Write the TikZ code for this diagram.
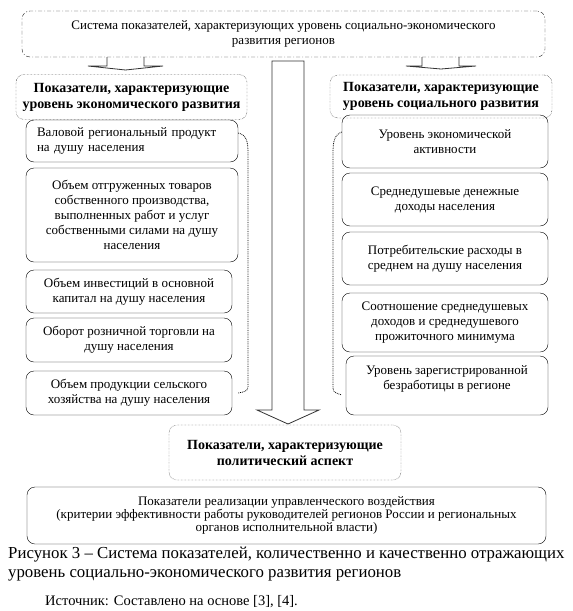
\documentclass[tikz,border=0pt]{standalone}
\usepackage{fontspec}
\setmainfont{Liberation Serif}
\begin{document}
\begin{tikzpicture}[x=1pt,y=-1pt,
  item/.style={draw,rounded corners=8pt,align=center,inner sep=0pt,
    font=\fontsize{13}{15}\selectfont},
  headbox/.style={draw,densely dotted,rounded corners=8pt,align=center,inner sep=0pt,
    font=\fontsize{14}{16}\selectfont\bfseries},
  bigarrow/.style={draw=black!80,line width=0.8pt}]
\useasboundingbox (0,0) rectangle (573,611);
\node [item,draw=black!85,dash pattern=on 4pt off 2pt on 1pt off 2pt,minimum width=523,minimum height=46] (top) at (283.5,34)
  {Система показателей, характеризующих уровень социально-экономического\\развития регионов};
\node [headbox,minimum width=231,minimum height=45] (lhead) at (131.5,97)
  {Показатели, характеризующие\\уровень экономического развития};
\node [headbox,minimum width=222,minimum height=43] (rhead) at (441,96.5)
  {Показатели, характеризующие\\уровень социального развития};
\node [item,minimum width=212,minimum height=42,text width=190,align=left] (l1) at (132,141)
  {\makebox[\linewidth][s]{Валовой региональный продукт}\\на душу населения};
\node [item,minimum width=212,minimum height=94] (l2) at (132,215)
  {Объем отгруженных товаров\\собственного производства,\\выполненных работ и услуг\\собственными силами на душу\\населения};
\node [item,minimum width=206,minimum height=43] (l3) at (129,291.5)
  {Объем инвестиций в основной\\капитал на душу населения};
\node [item,minimum width=206,minimum height=44] (l4) at (129,340)
  {Оборот розничной торговли на\\душу населения};
\node [item,minimum width=206,minimum height=44] (l5) at (129,393)
  {Объем продукции сельского\\хозяйства на душу населения};
\node [item,minimum width=206,minimum height=53] (r1) at (445,141.5)
  {Уровень экономической\\активности};
\node [item,minimum width=206,minimum height=53] (r2) at (445,199.5)
  {Среднедушевые денежные\\доходы населения};
\node [item,minimum width=206,minimum height=53] (r3) at (445,258.5)
  {Потребительские расходы в\\среднем на душу населения};
\node [item,minimum width=206,minimum height=59] (r4) at (445,322.5)
  {Соотношение среднедушевых\\доходов и среднедушевого\\прожиточного минимума};
\node [item,minimum width=202,minimum height=59] (r5) at (447,385.5)
  {Уровень зарегистрированной\\безработицы в регионе\\\mbox{}};
\node [headbox,minimum width=232,minimum height=55] (pol) at (285,452.5)
  {Показатели, характеризующие\\политический аспект};
\node [item,font=\fontsize{13}{12.8}\selectfont,minimum width=519,minimum height=57] (bot) at (286.5,515.5)
  {Показатели реализации управленческого воздействия\\(критерии эффективности работы руководителей регионов России и региональных\\органов исполнительной власти)};
\draw [bigarrow] (107,57) -- (107,66) -- (88,66) -- (125.5,70) -- (163,66) -- (144,66) -- (144,57);
\draw [bigarrow] (422,57) -- (422,66) -- (406,66) -- (441,69) -- (476,66) -- (459,66) -- (459,57);
\draw [bigarrow] (272,61) -- (272,410) -- (257,410) -- (288,424) -- (319,410) -- (304,410) -- (304,61) -- cycle;
\draw [densely dotted,thick] ([yshift=8pt]l1.east) .. controls (248,135) and (248,145) .. (248,155)
  -- (248,383) .. controls (248,391) .. ([xshift=6pt]l5.east);
\draw [densely dotted,thick] ([yshift=9.5pt]r1.west) .. controls (333,135) and (333,145) .. (333,155)
  -- (333,385) .. controls (333,392) .. ([xshift=-4pt,yshift=-9.5pt]r5.west);
\node [anchor=west,inner sep=0pt,font=\fontsize{16.8}{20}\selectfont] (cap1) at (8,555)
  {Рисунок 3 – Система показателей, количественно и качественно отражающих};
\node [anchor=west,inner sep=0pt,font=\fontsize{16.8}{20}\selectfont] (cap2) at (8,575)
  {уровень социально-экономического развития регионов};
\node [anchor=west,inner sep=0pt,font=\fontsize{14.5}{17}\selectfont] (src) at (45,602)
  {Источник: Составлено на основе [3], [4].};
\end{tikzpicture}
\end{document}
